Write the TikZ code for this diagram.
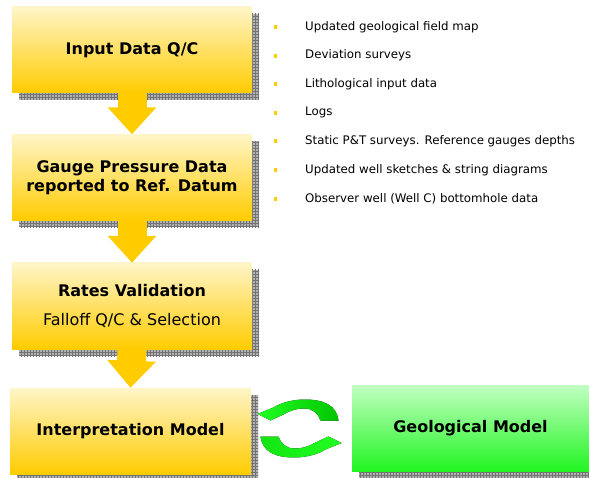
\documentclass[tikz,border=0pt]{standalone}
\usepackage{fontspec}
\setmainfont{DejaVu Sans}
\usetikzlibrary{arrows.meta,calc,patterns,shadows}

\definecolor{ylight}{HTML}{FFF5C8}
\definecolor{ymid}{HTML}{FFE98C}
\definecolor{ydark}{HTML}{FFCC00}
\definecolor{glight}{HTML}{C2FFC2}
\definecolor{gmid}{HTML}{80FF80}
\definecolor{gdark}{HTML}{22F522}
\definecolor{cycdark}{HTML}{00C400}
\definecolor{cyclight}{HTML}{22FF22}

\tikzset{
  gridshadow/.style={
    general shadow={shadow xshift=7pt, shadow yshift=-7pt, fill=gray!60},
    general shadow={shadow xshift=7pt, shadow yshift=-7pt, pattern=grid, pattern color=black!55}},
  stepbox/.style={gridshadow, minimum width=240pt, minimum height=86pt, inner sep=0pt,
    align=center, top color=ylight, middle color=ymid, bottom color=ydark,
    font=\fontsize{16}{19}\selectfont\bfseries},
  geobox/.style={stepbox, minimum width=237pt, top color=glight, middle color=gmid, bottom color=gdark},
  downarrow/.style={draw=ydark, line width=29pt, -{Triangle[width=47pt,length=27pt]}},
  bulletsq/.style={fill=ydark, minimum width=3pt, minimum height=4pt, inner sep=0pt},
  bullettext/.style={anchor=west, inner sep=0pt, font=\fontsize{11.8}{13}\selectfont}
}

\begin{document}
\begin{tikzpicture}[x=1pt,y=-1pt]
\useasboundingbox (0,0) rectangle (589,478);

% work flow
\node[stepbox] (input) at (132,50) {Input Data Q/C};
\node[stepbox] (gauge) at (132,177.5) {Gauge Pressure Data\\reported to Ref. Datum};
\node[stepbox] (rates) at (132,306) {Rates Validation\\[10pt]\mdseries Falloff Q/C \& Selection};
\node[stepbox, minimum width=241pt] (interp) at (130.5,431) {Interpretation Model};
\node[geobox] (geo) at (470.5,428) {Geological Model};

\draw[downarrow] (input.south) -- (gauge.north);
\draw[downarrow] (gauge.south) -- (rates.north);
\draw[downarrow] (rates.south) -- (interp.north);

% input list
\foreach \txt [count=\i] in {Updated geological field map, Deviation surveys,
    Lithological input data, Logs, Static P\&T surveys. Reference gauges depths,
    Updated well sketches \& string diagrams, Observer well (Well C) bottomhole data}
{
  \node[bulletsq] (sq\i) at (275,{27+28.6*(\i-1)}) {};
  \node[bullettext] (item\i) at (305,{27+28.6*(\i-1)}) {\txt};
}

% exchange between models
\coordinate (cyc) at (299.5,428.5);
\begin{scope}[shift={(cyc)}]
\fill[left color=cyclight, middle color=cyclight, right color=cycdark]
  (21,-8) -- (39,-8) .. controls (37,-23) and (25,-29) .. (5,-29)
  .. controls (-8,-29) and (-20,-25) .. (-26,-21) -- (-42,-14.5) -- (-29,-8) -- (-16,-14)
  .. controls (-8,-19) and (0,-20) .. (5,-20) .. controls (13,-20) and (19,-15) .. (21,-8) -- cycle;
\fill[left color=cycdark!45!cyclight, right color=cyclight]
  (-21,8) -- (-39,8) .. controls (-37,23) and (-25,29) .. (-5,29)
  .. controls (8,29) and (20,25) .. (26,21) -- (42,14.5) -- (29,8) -- (16,14)
  .. controls (8,19) and (0,20) .. (-5,20) .. controls (-13,20) and (-19,15) .. (-21,8) -- cycle;
\end{scope}
\end{tikzpicture}
\end{document}
